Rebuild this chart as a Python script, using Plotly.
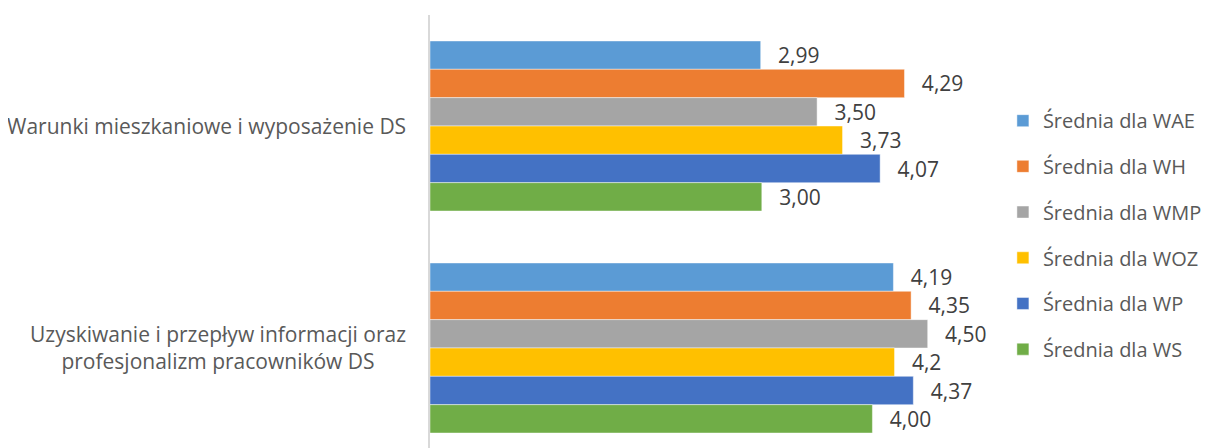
import plotly.graph_objects as go

categories = ["Warunki mieszkaniowe i wyposażenie DS",
              "Uzyskiwanie i przepływ informacji oraz profesjonalizm pracowników DS"]
category_labels = ["Warunki mieszkaniowe i wyposażenie DS",
                   "Uzyskiwanie i przepływ informacji oraz<br>profesjonalizm pracowników DS"]
series_names = ["Średnia dla WAE", "Średnia dla WH", "Średnia dla WMP",
                "Średnia dla WOZ", "Średnia dla WP", "Średnia dla WS"]
wae = [2.99, 4.19]
wh = [4.29, 4.35]
wmp = [3.50, 4.50]
woz = [3.73, 4.2]
wp = [4.07, 4.37]
ws = [3.00, 4.00]
series_values = [wae, wh, wmp, woz, wp, ws]
series_labels = [["2,99", "4,19"], ["4,29", "4,35"], ["3,50", "4,50"],
                 ["3,73", "4,2"], ["4,07", "4,37"], ["3,00", "4,00"]]
colors = ["#5B9BD5", "#ED7D31", "#A5A5A5", "#FFC000", "#4472C4", "#70AD47"]

FONT = "Open Sans"
fig = go.Figure()
for i, (name, vals, labs, col) in enumerate(zip(series_names, series_values, series_labels, colors)):
    fig.add_trace(go.Bar(
        y=categories, x=vals, name=name, orientation="h",
        marker=dict(color=col, line=dict(color="rgba(255,255,255,0.6)", width=0.75)),
        text=labs, texttemplate="\u00a0\u00a0\u2009%{text}", textposition="outside",
        textfont=dict(family=FONT, size=21, color="#404040"),
        cliponaxis=False, legendgroup=name,
    ))

annotations = []
for cat, lab in zip(categories, category_labels):
    annotations.append(dict(
        x=0, xref="paper", xanchor="right", xshift=-22,
        y=cat, yref="y", yanchor="middle", text=lab, showarrow=False,
        align="center", font=dict(family=FONT, size=21, color="#595959")))

fig.update_layout(
    width=1202, height=440,
    margin=dict(l=422, r=226.5, t=7, b=0),
    paper_bgcolor="white", plot_bgcolor="white",
    barmode="group", bargap=0.234, bargroupgap=0,
    showlegend=True,
    legend=dict(x=1.036, xanchor="left", y=0.801, yanchor="top",
                font=dict(family=FONT, size=20, color="#595959"),
                tracegroupgap=16.7, itemwidth=30, bgcolor="rgba(0,0,0,0)"),
    annotations=annotations,
    font=dict(family=FONT),
)
fig.update_xaxes(range=[0, 5], showgrid=False, showticklabels=False, zeroline=False,
                 showline=False, ticks="")
fig.update_yaxes(range=[1.4505, -0.5], showgrid=False, showticklabels=False,
                 showline=True, linecolor="#D9D9D9", linewidth=1.5, ticks="",
                 categoryorder="array", categoryarray=categories)

fig.write_html("out.html")
